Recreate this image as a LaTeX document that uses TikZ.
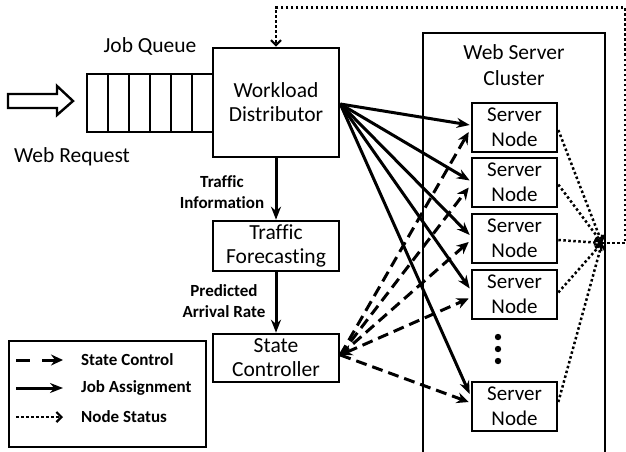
\documentclass[tikz,border=0pt]{standalone}
\usepackage{fontspec}
\setmainfont{Carlito}[Ligatures=NoCommon]
\usetikzlibrary{arrows.meta,calc}
\begin{document}
\begin{tikzpicture}[x=1pt,y=-1pt,
  box/.style={draw,line width=2.6pt,inner sep=0pt,align=center,font=\fontsize{21.5}{24}\selectfont},
  snode/.style={box,minimum width=85pt,minimum height=49pt,font=\fontsize{21}{25}\selectfont},
  lbl/.style={align=center,font=\bfseries\fontsize{17}{21}\selectfont,inner sep=0pt},
  txt/.style={align=center,font=\fontsize{21.5}{26}\selectfont,inner sep=0pt},
  job/.style={line width=3pt,-{Stealth[length=13pt,width=10pt]}},
  ctl/.style={line width=3pt,dash pattern=on 11pt off 6pt,-{Stealth[length=12pt,width=11pt,inset=4pt]}},
  stat/.style={line width=2.5pt,dash pattern=on 2.5pt off 2.5pt,-{Straight Barb[length=5pt,width=10pt,line width=2.2pt]}},
]
\useasboundingbox (0,0) rectangle (626,452);

% hollow input arrow
\draw[line width=2.4pt,line join=miter] (8,94) -- (57,94) -- (57,86) -- (73,101) -- (57,115) -- (57,108) -- (8,108) -- cycle;
\node[txt] (wr) at (72,157) {Web Request};

% job queue
\node[txt] (jq) at (150,46) {Job Queue};
\draw[line width=2.6pt] (213,74) -- (87,74) -- (87,132) -- (213,132);
\foreach \x in {108,129,150,171,192} \draw[line width=2.6pt] (\x,74) -- (\x,132);

% main boxes
\node[box,minimum width=126pt,minimum height=109pt] (wd) at (276,102.5) {Workload\\Distributor};
\node[box,minimum width=126pt,minimum height=50pt] (tf) at (276,246) {Traffic\\Forecasting};
\node[box,minimum width=126pt,minimum height=48pt] (sc) at (276,358) {State\\Controller};

\draw[job] (wd) -- (tf);
\draw[job] (tf) -- (sc);
\node[lbl] (ti) at (222,192) {Traffic\\Information};
\node[lbl] (pa) at (224,301) {Predicted\\Arrival Rate};

% cluster
\draw[line width=2.6pt] (423,462) -- (423,33) -- (605,33) -- (605,462);
\node[txt] (wsc) at (514,65) {Web Server\\Cluster};

\node[snode] (n1) at (514.5,127.5) {Server\\Node};
\node[snode] (n2) at (514.5,182.5) {Server\\Node};
\node[snode] (n3) at (514.5,238.5) {Server\\Node};
\node[snode] (n4) at (514.5,294.5) {Server\\Node};
\node[snode] (n5) at (514.5,406.5) {Server\\Node};
\foreach \y in {337,349,361} \fill (498,\y) circle (3.2pt);

% job assignment
\coordinate (wdo) at ($(wd.east)+(0,1.5)$);
\draw[job] (wdo) -- ($(n1.west)+(-1,-2.5)$);
\draw[job] (wdo) -- ($(n2.west)+(-1,-2)$);
\draw[job] (wdo) -- ($(n3.west)+(-1,-3.5)$);
\draw[job] (wdo) -- ($(n4.west)+(-1,-6)$);
\draw[job] (wdo) -- ($(n5.west)+(-1,-12.5)$);

% state control
\coordinate (sco) at ($(sc.east)+(0,-3)$);
\draw[ctl] (sco) -- ($(n1.west)+(-2,4.5)$);
\draw[ctl] (sco) -- ($(n2.west)+(-2,5)$);
\draw[ctl] (sco) -- ($(n3.west)+(-2,3.5)$);
\draw[ctl,{Stealth[length=12pt,width=11pt,inset=4pt]}-{Stealth[length=12pt,width=11pt,inset=4pt]}] (sco) -- ($(n4.west)+(-2,4)$);
\draw[ctl] (sco) -- ($(n5.west)+(-2,-4.5)$);

% node status
\coordinate (hub) at (602,243);
\draw[stat] ($(n1.east)+(0,2.5)$) -- (hub);
\draw[stat] ($(n2.east)+(0,2)$) -- (hub);
\draw[stat] ($(n3.east)+(0,1.5)$) -- (hub);
\draw[stat] ($(n4.east)+(0,-2)$) -- (hub);
\draw[stat] ($(n5.east)+(0,-4.5)$) -- (hub);
\draw[stat] (hub) -- ($(hub)+(23,0)$) |- ($(wd.north)+(0,-39)$) -- (wd.north);

% legend
\node[draw,line width=1.3pt,minimum width=197pt,minimum height=106pt,inner sep=0pt] (lg) at (107.5,394) {};
\coordinate (a1) at (16,360); \coordinate (a2) at (30,360);
\coordinate (a3) at (42,360); \coordinate (a4) at (63,360);
\draw[line width=3pt] (a1) -- (a2);
\draw[line width=3pt,-{Stealth[length=12pt,width=11pt,inset=4pt]}] (a3) -- (a4);
\coordinate (b1) at (16,388); \coordinate (b2) at (63,388);
\draw[job] (b1) -- (b2);
\coordinate (c1) at (16,417); \coordinate (c2) at (63,417);
\draw[stat] (c1) -- (c2);
\node[lbl,anchor=west] (l1) at (81,360) {State Control};
\node[lbl,anchor=west] (l2) at (81,388) {Job Assignment};
\node[lbl,anchor=west] (l3) at (81,417) {Node Status};
\end{tikzpicture}
\end{document}
